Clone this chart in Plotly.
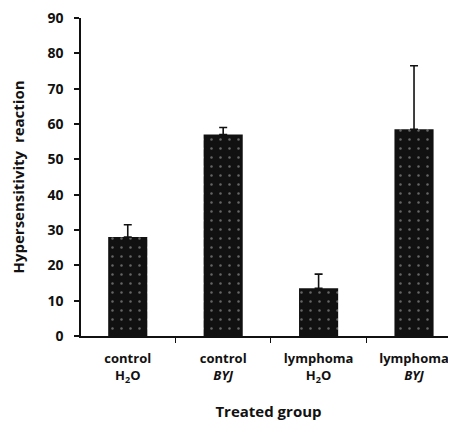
import plotly.graph_objects as go

categories = ["control<br>H<sub>2</sub>O", "control<br><i>BYJ</i>", "lymphoma<br>H<sub>2</sub>O", "lymphoma<br><i>BYJ</i>"]
values = [28, 57, 13.5, 58.5]
err_upper = [3.5, 2, 4, 18]
y_ticks = [0, 10, 20, 30, 40, 50, 60, 70, 80, 90]

font_family = "Open Sans, Lato, sans-serif"

fig = go.Figure()
fig.add_trace(go.Bar(
    x=categories,
    y=values,
    width=0.41,
    marker=dict(
        color="#111111",
        line=dict(width=0),
        pattern=dict(shape=".", fgcolor="#bbbbbb", bgcolor="#111111", size=9, solidity=0.06),
    ),
    error_y=dict(type="data", array=err_upper, arrayminus=[0, 0, 0, 0], symmetric=False,
                 color="#111111", thickness=1.6, width=4),
    showlegend=False,
))

fig.update_layout(
    width=456, height=427,
    margin=dict(l=73, r=8, t=10, b=99),
    plot_bgcolor="white", paper_bgcolor="white",
    font=dict(family=font_family, color="#111111"),
    xaxis=dict(
        range=[-0.49, 3.44],
        automargin=False,
        showline=True, linecolor="#111111", linewidth=1.5,
        ticks="outside", tickson="boundaries", ticklen=5, tickcolor="#111111",
        tickfont=dict(size=13, family=font_family, weight="bold"),
        ticklabelstandoff=10,
        ticklabeloverflow="allow",
        showgrid=False, zeroline=False,
        title=dict(text="<b>Treated group</b>", font=dict(size=15, family=font_family), standoff=22),
    ),
    yaxis=dict(
        range=[0, 90],
        automargin=False,
        tickvals=y_ticks,
        showline=True, linecolor="#111111", linewidth=1.5,
        ticks="outside", ticklen=5, tickcolor="#111111", tickwidth=1.5,
        tickfont=dict(size=14, family=font_family, weight="bold"),
        ticklabelstandoff=8,
        ticklabeloverflow="allow",
        showgrid=False, zeroline=False,
        title=dict(text="<b>Hypersensitivity  reaction</b>", font=dict(size=15, family=font_family), standoff=19),
    ),
)

fig.write_html("out.html")
